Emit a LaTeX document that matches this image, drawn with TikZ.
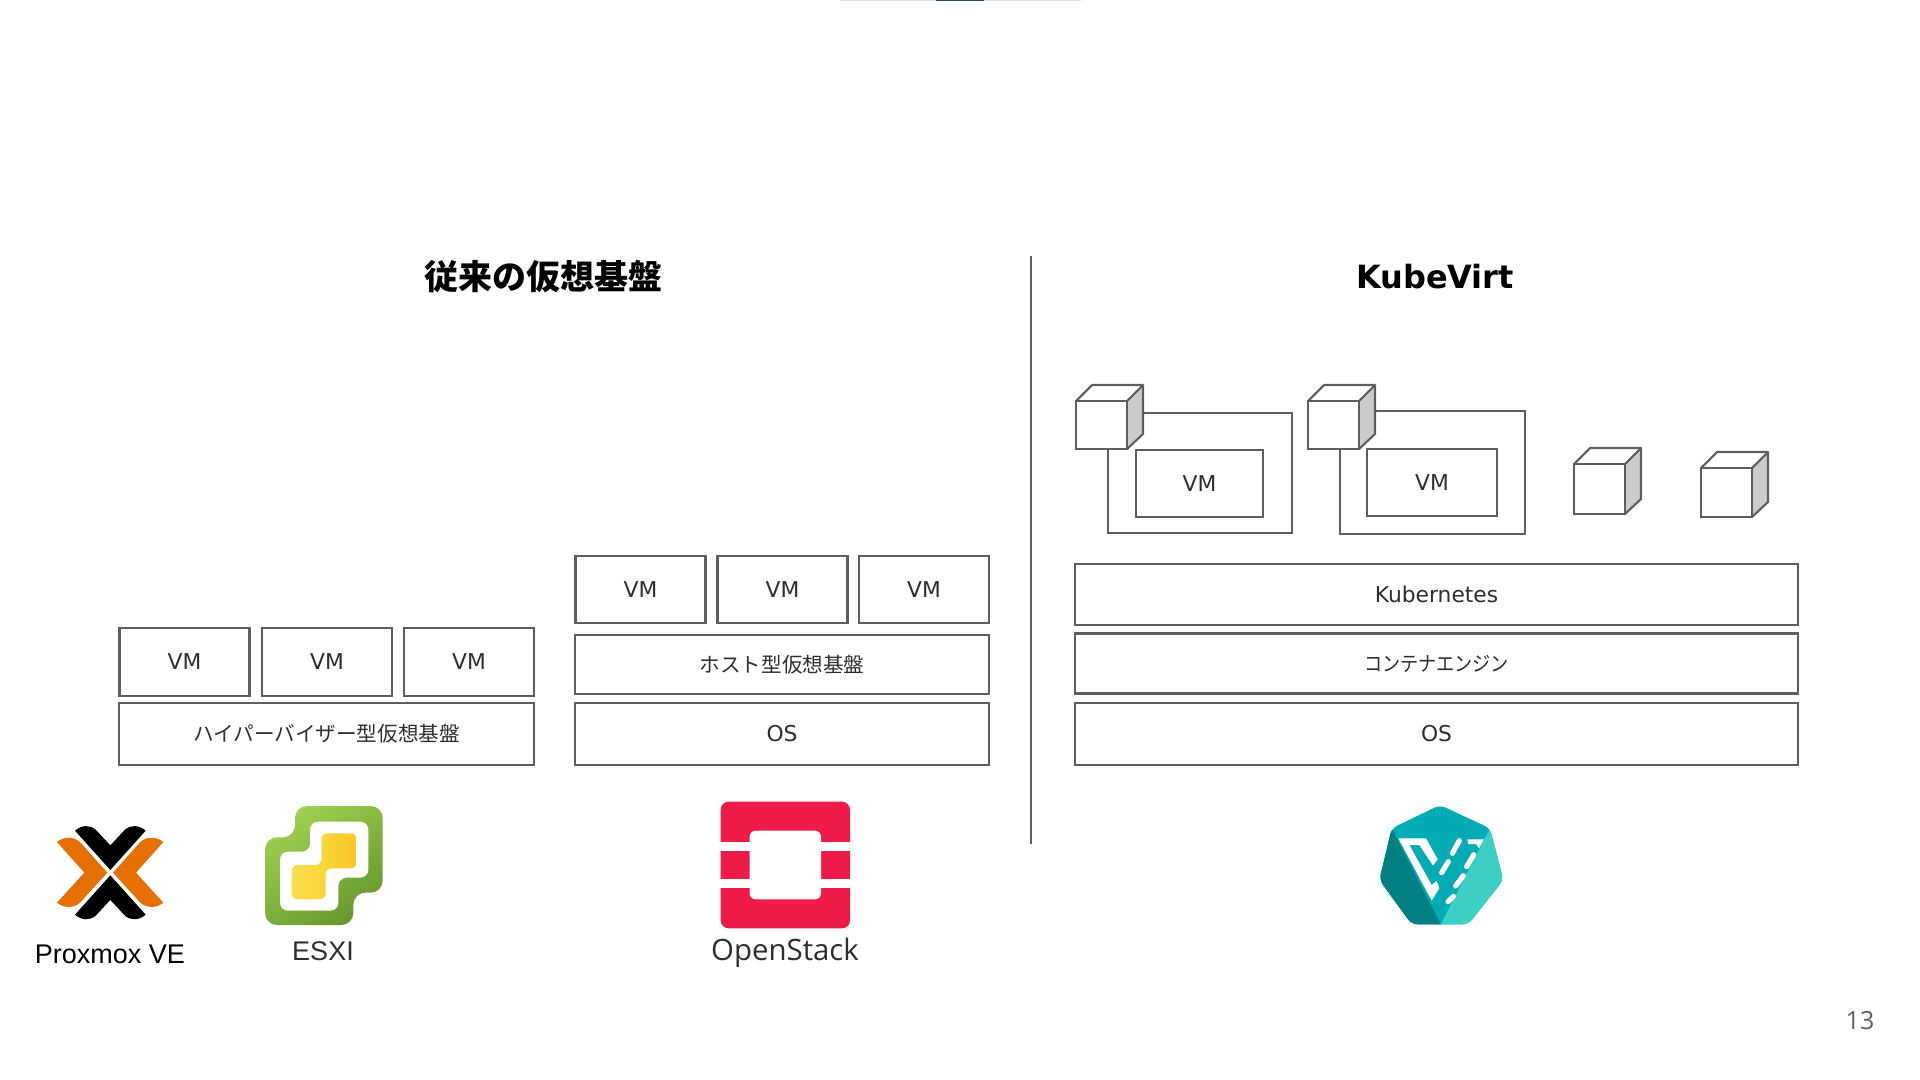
\documentclass[tikz,border=0pt]{standalone}
\usepackage{fontspec}
\setmainfont{Noto Sans CJK JP}
\newfontfamily\logofont{Liberation Sans}
\newfontfamily\slidefont{Open Sans}
\newfontfamily\boxfont{DejaVu Sans}
\definecolor{linegray}{HTML}{5E5E5E}
\definecolor{textgray}{HTML}{2E2E2E}
\definecolor{sidegray}{HTML}{CCCCCC}
\definecolor{bargray}{HTML}{E2E2E2}
\definecolor{barblue}{HTML}{1F4E66}
\definecolor{proxorange}{HTML}{E57000}
\definecolor{esxilight}{HTML}{A0D050}
\definecolor{esxidark}{HTML}{66982E}
\definecolor{esxiyellow}{HTML}{FBC723}
\definecolor{esxipale}{HTML}{F8E050}
\definecolor{stackred}{HTML}{EE1A47}
\definecolor{virtmid}{HTML}{00ABB3}
\definecolor{virtdark}{HTML}{007F82}
\definecolor{virtlight}{HTML}{3CCFC4}
\tikzset{
    layerbox/.style 2 args={draw=linegray, line width=1.05pt, minimum width=#1*.5pt, minimum height=#2*.5pt,
        inner sep=0pt, outer sep=0pt, text=textgray, font=\fontsize{10.3}{12}\selectfont},
    latinbox/.style={font=\boxfont\fontsize{10.9}{13}\selectfont},
    titlelabel/.style={font=\fontsize{17}{20}\selectfont\bfseries, text=black},
    logolabel/.style={anchor=base, text=textgray, font=\logofont\fontsize{13.5}{15}\selectfont},
}

\begin{document}
\begin{tikzpicture}[x=.5pt, y=-.5pt]
    \useasboundingbox (0,0) rectangle (1920,1080);

    % Top bar
    \fill[bargray] (840,0) rectangle (1081,1);
    \fill[barblue] (936,0) rectangle (984,1.5);

    % Titles
    \node[titlelabel] (oldtitle) at (543,277) {従来の仮想基盤};
    \node[titlelabel, font=\boxfont\fontsize{16}{20}\selectfont\bfseries] (virttitle) at (1435,277) {KubeVirt};

    % Separator
    \coordinate (septop) at (1031,256);
    \coordinate (sepbottom) at (1031,844);
    \draw[linegray, line width=1.05pt] (septop) -- (sepbottom);

    % Hypervisor stack
    \foreach \x [count=\i] in {184.5,327,469} {
        \node[layerbox={130}{68}, latinbox] (hypervm\i) at (\x,662) {VM};
    }
    \node[layerbox={415}{62}] (hyper) at (326.5,734) {ハイパーバイザー型仮想基盤};

    % Hosted stack
    \foreach \x [count=\i] in {640.5,782.5,924} {
        \node[layerbox={130}{67}, latinbox] (hostvm\i) at (\x,589.5) {VM};
    }
    \node[layerbox={414}{59}] (host) at (782,664.5) {ホスト型仮想基盤};
    \node[layerbox={414}{62}, latinbox] (hostos) at (782,734) {OS};

    % KubeVirt stack
    \node[layerbox={723}{61}, latinbox] (kube) at (1436.5,594.5) {Kubernetes};
    \node[layerbox={723}{60}] (engine) at (1436.5,663.5) {\scalebox{.88}[1]{コンテナエンジン}};
    \node[layerbox={723}{62}, latinbox] (virtos) at (1436.5,734) {OS};

    % Pods with a VM
    \node[layerbox={184}{120}] (poda) at (1200,473) {};
    \node[layerbox={127}{67}, latinbox] (podavm) at (1199.5,483.5) {VM};
    \node[layerbox={185}{123}] (podb) at (1432.5,472.5) {};
    \node[layerbox={130}{67}, latinbox] (podbvm) at (1432,482.5) {VM};

    % Containers
    \foreach \x/\y/\h in {1076/449/48,1308/449/48,1574/514/50,1701/517/49} {
        \fill[sidegray] (\x+51,\y) -- (\x+67,\y-15) -- (\x+67,\y-\h-16) -- (\x+51,\y-\h) -- cycle;
        \draw[linegray, line width=1.05pt, fill=white] (\x,\y) rectangle (\x+51,\y-\h);
        \draw[linegray, line width=1.05pt, line join=round] (\x,\y-\h) -- (\x+16,\y-\h-16) -- (\x+67,\y-\h-16) -- (\x+67,\y-15) -- (\x+51,\y);
        \draw[linegray, line width=1.05pt] (\x+51,\y-\h) -- (\x+67,\y-\h-16);
    }

    % Proxmox logo
    \begin{scope}[shift={(0,780)}, scale=1/3]
        \fill[proxorange] (171,186) .. controls (190,170) and (220,168) .. (240,186) -- (322,278) -- (240,368) .. controls (220,386) and (190,384) .. (171,368) -- (253,278) -- cycle;
        \fill[proxorange] (490,186) .. controls (471,170) and (441,168) .. (421,186) -- (339,278) -- (421,368) .. controls (441,386) and (471,384) .. (490,368) -- (408,278) -- cycle;
        \fill[black] (225,152) .. controls (245,135) and (270,133) .. (288,150) -- (331,196) -- (374,150) .. controls (392,133) and (417,135) .. (437,152) -- (331,270) -- cycle;
        \fill[black] (225,404) .. controls (245,421) and (270,423) .. (288,406) -- (331,360) -- (374,406) .. controls (392,423) and (417,421) .. (437,404) -- (331,286) -- cycle;

        % ESXI logo
        \path[top color=esxilight, bottom color=esxidark, shading angle=35, rounded corners=6pt]
            (885,172) -- (885,78) -- (1148,78) -- (1148,338) -- (1060,338) -- (1060,435) -- (795,435) -- (795,172) -- cycle;
        \fill[white, rounded corners=4pt]
            (930,215) -- (930,125) -- (1105,125) -- (1105,293) -- (1015,293) -- (1015,392) -- (840,392) -- (840,215) -- cycle;
        \path[left color=esxipale, right color=esxiyellow, rounded corners=3pt]
            (965,255) -- (965,160) -- (1070,160) -- (1070,265) -- (977,265) -- (977,358) -- (875,358) -- (875,255) -- cycle;
    \end{scope}

    % OpenStack logo
    \begin{scope}[shift={(680,780)}, scale=1/3]
        \fill[stackred, rounded corners=4pt] (122,65) rectangle (510,445);
        \fill[white, rounded corners=3pt] (209,152) rectangle (423,358);
        \foreach \y in {185,298} {
            \fill[white] (118,\y) rectangle (209,\y+27);
            \fill[white] (423,\y) rectangle (514,\y+27);
        }
    \end{scope}

    % KubeVirt logo
    \begin{scope}[shift={(1340,780)}, scale=1/3]
        \begin{scope}
            \clip[rounded corners=3pt] (300,75) -- (450,145) -- (490,300) -- (385,433) -- (215,433) -- (118,300) -- (155,145) -- cycle;
            \fill[virtmid] (100,60) rectangle (510,440);
            \fill[virtdark] (155,145) -- (100,300) -- (200,440) -- (302,440) -- (302,433) -- cycle;
            \fill[virtlight] (450,145) -- (510,300) -- (400,440) -- (302,440) -- (302,433) -- cycle;
        \end{scope}
        \fill[white] (175,175) -- (258,175) -- (293,238) -- (279,257) -- (238,195) -- (208,195) -- (275,315) -- (290,303) -- (298,325) -- (275,362) -- cycle;
        \fill[white] (382,178) -- (432,178) -- (417,205) -- (408,192) -- (385,192) -- cycle;
        \foreach \xa/\ya/\xb/\yb in {358/182/337/220,325/245/305/278,401/224/380/260,370/287/347/318,340/349/324/365} {
            \draw[white, line width=2.6pt, line cap=round] (\xa,\ya) -- (\xb,\yb);
        }
    \end{scope}

    % Logo labels
    \node[logolabel, text=black] (proxlabel) at (110,963) {Proxmox VE};
    \node[logolabel] (esxilabel) at (323,960) {ESXI};
    \node[logolabel, font=\slidefont\fontsize{14.7}{17}\selectfont] (stacklabel) at (785,960) {OpenStack};

    % Page number
    \node[text=linegray, font=\slidefont\fontsize{12.5}{15}\selectfont] (pagenum) at (1860,1021) {13};

\end{tikzpicture}
\end{document}
